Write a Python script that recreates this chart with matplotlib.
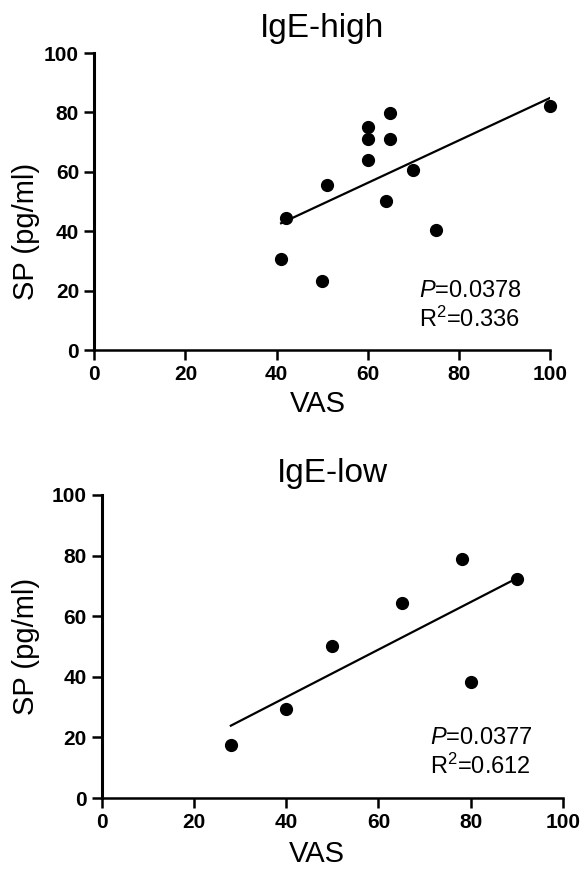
import numpy as np
import matplotlib
matplotlib.use("Agg")
import matplotlib.pyplot as plt

plt.rcParams['font.family'] = ['Liberation Sans', 'DejaVu Sans']
plt.rcParams['mathtext.fontset'] = 'custom'
plt.rcParams['mathtext.rm'] = 'Liberation Sans'
plt.rcParams['mathtext.it'] = 'Liberation Sans:italic'

# data
high_vas = [41, 42, 50, 51, 60, 60, 60, 64, 65, 65, 70, 75, 100]
high_sp = [30.5, 44.3, 23.3, 55.7, 63.9, 71.0, 75.2, 50.1, 71.0, 79.7, 60.7, 40.4, 82.0]
low_vas = [28, 40, 50, 65, 78, 80, 90]
low_sp = [17.5, 29.5, 50.3, 64.5, 79.0, 38.4, 72.3]

titles = ["IgE-high", "IgE-low"]
p_texts = ["0.0378", "0.0377"]
r2_texts = ["0.336", "0.612"]
ticks = [0, 20, 40, 60, 80, 100]

fig = plt.figure(figsize=(5.84, 8.75), dpi=100)
ax1 = fig.add_axes([0.1615, 0.600, 0.780, 0.3394])
ax2 = fig.add_axes([0.1741, 0.088, 0.790, 0.3463])

layout = [
    (ax1, high_vas, high_sp, (0.49, -0.135), (-0.119, 0.40), 11.5),
    (ax2, low_vas, low_sp, (0.4675, -0.139), (-0.134, 0.50), 9),
]

for i, (ax, xs, ys, xl_pos, yl_pos, tpad) in enumerate(layout):
    xs = np.array(xs, dtype=float)
    ys = np.array(ys, dtype=float)
    ax.plot(xs, ys, 'o', color='black', markersize=8.5, clip_on=False, zorder=3)
    k, b = np.polyfit(xs, ys, 1)
    xx = np.array([xs.min(), xs.max()])
    ax.plot(xx, k * xx + b, color='black', lw=1.6)

    ax.set_xlim(0, 100)
    ax.set_ylim(0, 100)
    ax.set_xticks(ticks)
    ax.set_yticks(ticks)
    for s in ['top', 'right']:
        ax.spines[s].set_visible(False)
    ax.spines['left'].set_linewidth(2.2)
    ax.spines['bottom'].set_linewidth(1.8)
    ax.tick_params(direction='out', length=7, width=1.8, labelsize=15, pad=4)
    for lab in ax.get_xticklabels() + ax.get_yticklabels():
        lab.set_fontweight('bold')

    ax.set_title(titles[i], fontsize=24, pad=tpad)
    ax.set_xlabel("VAS", fontsize=21)
    ax.set_ylabel("SP (pg/ml)", fontsize=21)
    ax.xaxis.set_label_coords(*xl_pos)
    ax.yaxis.set_label_coords(*yl_pos)

    ax.text(71.2, 17.8, r"$P$=" + p_texts[i], fontsize=17)
    ax.text(71.2, 7.8, "R$^{2}$=" + r2_texts[i], fontsize=17)

fig.savefig("out.png", dpi=100)
